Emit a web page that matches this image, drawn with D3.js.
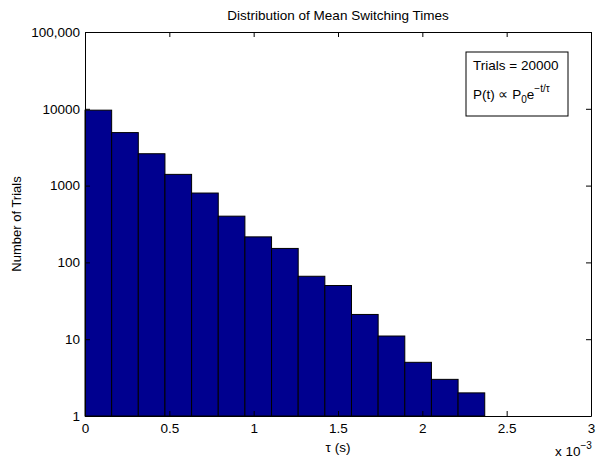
<!DOCTYPE html>
<html>
<head>
<meta charset="utf-8">
<script src="https://cdn.jsdelivr.net/npm/d3@7"></script>
<style>
  body { margin: 0; background: #fff; }
  svg { font-family: "Liberation Sans", Arial, Helvetica, sans-serif; }
  .axis text { font-size: 13.5px; fill: #000; }
  .axis path, .axis line { stroke: #000; stroke-width: 1; }
</style>
</head>
<body>
<div id="grafHist"></div>
<script>
// datos (tiempos en segundos)
const binEdges = [0, 0.158e-3, 0.316e-3, 0.474e-3, 0.632e-3, 0.790e-3, 0.948e-3, 1.106e-3,
  1.264e-3, 1.422e-3, 1.580e-3, 1.738e-3, 1.896e-3, 2.054e-3, 2.212e-3, 2.370e-3];
const counts = [9600, 4900, 2600, 1400, 800, 400, 215, 152, 66, 50, 21, 11, 5, 3, 2];
const xTicks = [0, 0.5e-3, 1e-3, 1.5e-3, 2e-3, 2.5e-3, 3e-3];
const xTickLabels = ["0", "0.5", "1", "1.5", "2", "2.5", "3"];
const yTicks = [1, 10, 100, 1000, 10000, 100000];
const yTickLabels = ["1", "10", "100", "1000", "10000", "100,000"];

const totalWidth = 598;
const totalHeight = 458;
const margins = { top: 32, right: 7, bottom: 42, left: 85 };
const width = totalWidth - margins.left - margins.right;
const height = totalHeight - margins.top - margins.bottom;

const svg = d3.select("#grafHist")
  .append("svg")
  .attr("width", totalWidth)
  .attr("height", totalHeight);

const g = svg.append("g")
  .attr("transform", `translate(${margins.left}, ${margins.top})`);

// escaladores
const x = d3.scaleLinear().domain([0, 3e-3]).range([0, width]);
const y = d3.scaleLog().domain([1, 100000]).range([height, 0]);

const bins = counts.map((c, i) => ({ x0: binEdges[i], x1: binEdges[i + 1], n: c }));

// barras
g.selectAll("rect.bar")
  .data(bins)
  .enter()
  .append("rect")
  .attr("class", "bar")
  .attr("x", (d) => x(d.x0))
  .attr("width", (d) => x(d.x1) - x(d.x0))
  .attr("y", (d) => y(d.n))
  .attr("height", (d) => y(1) - y(d.n))
  .attr("fill", "#00008f")
  .attr("stroke", "#000")
  .attr("stroke-width", 1);

// ejes (ticks hacia dentro, como matlab)
g.append("g")
  .attr("class", "axis")
  .attr("transform", `translate(0, ${height})`)
  .call(d3.axisBottom(x).tickValues(xTicks).tickFormat((d, i) => xTickLabels[i])
    .tickSize(-5).tickSizeOuter(0).tickPadding(7));

g.append("g")
  .attr("class", "axis")
  .call(d3.axisTop(x).tickValues(xTicks).tickFormat("").tickSize(-5).tickSizeOuter(0));

g.append("g")
  .attr("class", "axis")
  .call(d3.axisLeft(y).tickValues(yTicks).tickFormat((d, i) => yTickLabels[i])
    .tickSize(-5).tickSizeOuter(0).tickPadding(5));

g.append("g")
  .attr("class", "axis")
  .attr("transform", `translate(${width}, 0)`)
  .call(d3.axisRight(y).tickValues(yTicks).tickFormat("").tickSize(-5).tickSizeOuter(0));

g.selectAll(".axis .tick text").attr("fill", "#000");

// titulo y etiquetas
g.append("text")
  .attr("x", width / 2)
  .attr("y", -12)
  .attr("text-anchor", "middle")
  .attr("font-size", 13.5)
  .text("Distribution of Mean Switching Times");

g.append("text")
  .attr("x", width / 2)
  .attr("y", height + 36)
  .attr("text-anchor", "middle")
  .attr("font-size", 13.5)
  .text("\u03c4 (s)");

const expo = g.append("text")
  .attr("x", width - 36)
  .attr("y", height + 40)
  .attr("font-size", 13.5);
expo.append("tspan").text("x 10");
expo.append("tspan").attr("dy", -7).attr("font-size", 10).text("\u22123");

g.append("text")
  .attr("transform", `translate(${-64}, ${height / 2}) rotate(-90)`)
  .attr("text-anchor", "middle")
  .attr("font-size", 13)
  .text("Number of Trials");

// cuadro de texto
const box = g.append("g").attr("transform", `translate(${466 - margins.left}, ${52 - margins.top})`);
box.append("rect")
  .attr("width", 102)
  .attr("height", 64)
  .attr("fill", "#fff")
  .attr("stroke", "#000")
  .attr("stroke-width", 1);
box.append("text")
  .attr("x", 7)
  .attr("y", 18)
  .attr("font-size", 13.5)
  .text("Trials = 20000");
const formula = box.append("text")
  .attr("x", 7)
  .attr("y", 47)
  .attr("font-size", 13.5);
formula.append("tspan").text("P(t) \u221d P");
formula.append("tspan").attr("dy", 4).attr("font-size", 10).text("0");
formula.append("tspan").attr("dy", -4).text("e");
formula.append("tspan").attr("dy", -7).attr("font-size", 10).text("\u2212t/\u03c4");
</script>
</body>
</html>
